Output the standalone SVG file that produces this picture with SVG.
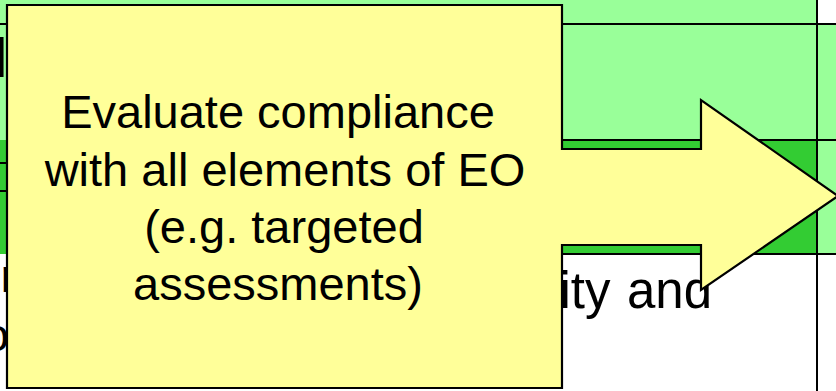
<svg xmlns="http://www.w3.org/2000/svg" width="836" height="391" viewBox="0 0 836 391">
  <style>
    .grid { stroke: #000; stroke-width: 2; fill: none; }
    .cell-text { font-family: "Liberation Sans", Arial, sans-serif; fill: #000; }
    .callout-text { font-family: "Liberation Sans", Arial, sans-serif; font-size: 47px; fill: #000; text-anchor: middle; }
    .callout-shape { fill: #FFFF99; stroke: #000; stroke-width: 2.2; stroke-linejoin: miter; }
  </style>

  <g id="table">
    <rect x="0" y="0" width="836" height="391" fill="#FFFFFF"/>
    <rect x="0" y="0" width="817" height="140" fill="#99FF99"/>
    <rect x="817" y="24" width="19" height="230" fill="#99FF99"/>
    <rect x="0" y="140" width="817" height="114" fill="#33CC33"/>
    <line class="grid" x1="0" y1="24" x2="836" y2="24"/>
    <line class="grid" x1="7" y1="140" x2="836" y2="140"/>
    <line class="grid" x1="7" y1="254" x2="836" y2="254"/>
    <line class="grid" x1="817" y1="0" x2="817" y2="391"/>
    <line class="grid" x1="0" y1="163" x2="7" y2="163" stroke-width="2.3"/>
    <line class="grid" x1="0" y1="191" x2="7" y2="191" stroke-width="2.3"/>
    <text class="cell-text" x="-5" y="77" font-size="55">l</text>
    <text class="cell-text" x="0.4" y="292" font-size="47">r</text>
    <text class="cell-text" x="-17" y="350.5" font-size="47">o</text>
    <text class="cell-text" y="308" font-size="51"><tspan x="559.5">ity</tspan><tspan x="627">and</tspan></text>
  </g>

  <g id="callout">
    <path class="callout-shape" d="M7,5 H562 V149 H701 V100 L838,196 L701,290 V245 H562 V388 H7 Z"/>
    <text class="callout-text" x="278" y="128">Evaluate compliance</text>
    <text class="callout-text" x="285" y="186">with all elements of EO</text>
    <text class="callout-text" x="284" y="243">(e.g. targeted</text>
    <text class="callout-text" x="278" y="300">assessments)</text>
  </g>

  <g id="connectors"></g>
</svg>
